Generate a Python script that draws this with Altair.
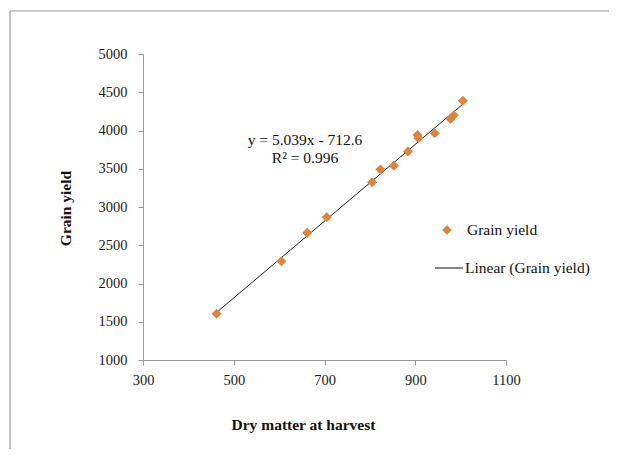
import altair as alt
import pandas as pd

dry_matter = [462, 605, 662, 705, 805, 823, 853, 884, 905, 907, 943, 978, 985, 1005]
grain_yield = [1605, 2290, 2665, 2865, 3325, 3490, 3540, 3725, 3940, 3900, 3965, 4150, 4200, 4390]

x_ticks = [300, 500, 700, 900, 1100]
y_ticks = [1000, 1500, 2000, 2500, 3000, 3500, 4000, 4500, 5000]

eq_lines = ["y = 5.039x - 712.6", "R² = 0.996"]
eq_x = [657, 657]
eq_y = [3880, 3645]

df = pd.DataFrame({"x": dry_matter, "y": grain_yield})
eq_df = pd.DataFrame({"x": eq_x, "y": eq_y, "t": eq_lines})

FONT = "Liberation Serif"
ORANGE = "#DF833D"

xs = alt.Scale(domain=[300, 1100], nice=False, zero=False)
ys = alt.Scale(domain=[1000, 5000], nice=False, zero=False)

common = dict(grid=False, tickSize=5, labelFontSize=14.5, labelFont=FONT, format="d",
              labelOverlap=False, labelFlush=False,
              labelColor="#1a1a1a", domainColor="#999999", tickColor="#999999",
              titleFont=FONT, titleFontSize=15.5, titleFontWeight="bold", titleColor="#111111",
              titleBaseline="middle", titleAlign="center")

xaxis = alt.Axis(values=x_ticks, title="Dry matter  at harvest", labelPadding=8,
                 titleX=160, titleY=64, **common)
yaxis = alt.Axis(values=y_ticks, title="Grain yield", labelPadding=11,
                 titleX=-78, titleY=154, **common)

X = alt.X("x:Q", scale=xs, axis=xaxis)
Y = alt.Y("y:Q", scale=ys, axis=yaxis)

base = alt.Chart(df)

trend = base.transform_regression("x", "y", method="linear").mark_line(
    color="#222222", strokeWidth=1
).encode(x=X, y=Y)

pts = base.mark_point(shape="diamond", filled=True, size=100, color=ORANGE, opacity=1).encode(
    x=X, y=Y
)

eq = alt.Chart(eq_df).mark_text(font=FONT, fontSize=15.5, color="#111111").encode(
    x=X, y=Y, text="t:N"
)

# legend (manual)
one = pd.DataFrame({"a": [0]})
leg_pt = alt.Chart(one).mark_point(
    shape="diamond", filled=True, size=90, color=ORANGE, opacity=1
).encode(x=alt.value(304), y=alt.value(176))
leg_t1 = alt.Chart(one).mark_text(
    text="Grain yield", font=FONT, fontSize=15.5, align="left", baseline="middle", color="#111111"
).encode(x=alt.value(324), y=alt.value(176))
leg_line = alt.Chart(one).mark_rule(color="#111111", strokeWidth=1).encode(
    x=alt.value(292), x2=alt.value(320), y=alt.value(214)
)
leg_t2 = alt.Chart(one).mark_text(
    text="Linear (Grain yield)", font=FONT, fontSize=15.5, align="left", baseline="middle", color="#111111"
).encode(x=alt.value(322), y=alt.value(214))

# outer border of the chart frame
border_top = alt.Chart(one).mark_rule(color="#9a9a9a", strokeWidth=1.2).encode(
    x=alt.value(-133), x2=alt.value(470), y=alt.value(-43)
)
border_left = alt.Chart(one).mark_rule(color="#9a9a9a", strokeWidth=1.2).encode(
    x=alt.value(-133), y=alt.value(-43), y2=alt.value(400)
)

chart = alt.layer(
    trend, pts, eq, border_top, border_left, leg_pt, leg_t1, leg_line, leg_t2
).properties(
    width=363, height=306,
    autosize=alt.AutoSizeParams(type="none"),
    padding={"left": 135, "top": 46, "right": 103, "bottom": 89},
    background="white",
).configure_view(stroke=None)

chart.save("out.html", embed_options={"renderer": "svg", "actions": False})
